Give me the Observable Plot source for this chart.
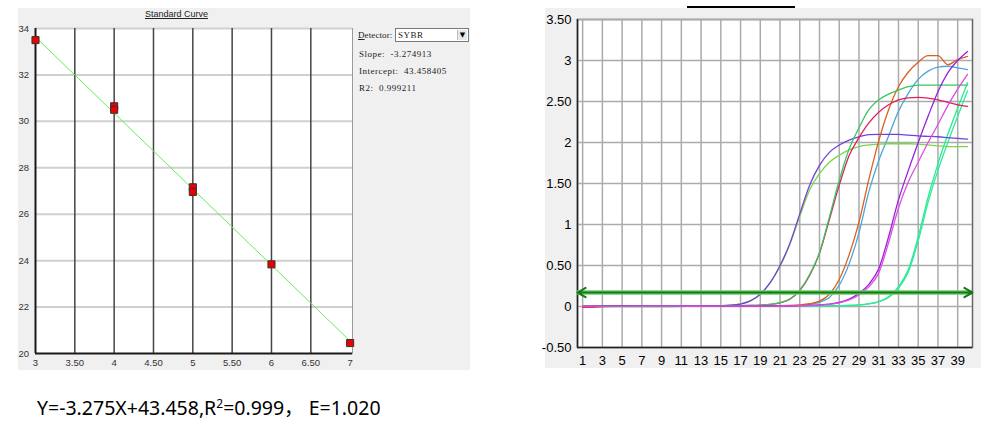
<!DOCTYPE html>
<html>
<head>
<meta charset="utf-8">
<script src="https://cdn.jsdelivr.net/npm/d3@7"></script>
<script src="https://cdn.jsdelivr.net/npm/@observablehq/plot@0.6"></script>
<style>
  html, body { margin: 0; padding: 0; background: #ffffff; }
  #root { position: relative; width: 985px; height: 426px; overflow: hidden; background: #ffffff; }
  .abs { position: absolute; }
  .panel { position: absolute; background: #f0f0f0; }
  .side { position: absolute; font-family: 'Liberation Serif', 'DejaVu Serif', serif; font-size: 9px; color: #222; letter-spacing: 0.5px; white-space: pre; line-height: 10px; }
</style>
</head>
<body>
<div id="root">
  <div class="panel" style="left:18px; top:8px; width:452px; height:362px;"></div>
  <div class="panel" style="left:545px; top:8px; width:436px; height:360px;"></div>
  <div class="abs" style="left:687px; top:6px; width:108px; height:0; border-top:2px solid #000;"></div>
  <div class="abs" style="left:18px; top:9px; width:317px; text-align:center; font:9px 'Liberation Sans', Arial, sans-serif; color:#222; text-decoration:underline;">Standard Curve</div>
  <div id="left" class="abs" style="left:0; top:0;"></div>
  <div id="right" class="abs" style="left:540px; top:0;"></div>
  <div class="side" style="left:358px; top:30px; letter-spacing:0.1px;"><u>D</u>etector:</div>
  <div class="abs" style="left:395px; top:28px; width:72px; height:12px; background:#fff; border:1px solid #7a7a7a;">
    <div class="side" style="left:2px; top:1px;">SYBR</div>
    <div class="abs" style="right:1px; top:1px; width:9px; height:10px; background:#e8e8e8; border-left:1px solid #c0c0c0; font:7px 'DejaVu Sans', sans-serif; color:#000; text-align:center; line-height:10px;">▼</div>
  </div>
  <div class="side" style="left:359px; top:49px;">Slope:  -3.274913</div>
  <div class="side" style="left:359px; top:66px;">Intercept:  43.458405</div>
  <div class="side" style="left:359px; top:83px;">R2:  0.999211</div>
  <div class="abs" style="left:37px; top:398px; font-family:'Noto Sans', 'Noto Sans CJK SC', sans-serif; font-size:19.5px; line-height:20px; color:#000; white-space:pre;">Y=-3.275X+43.458,R<sup style="font-size:12px; line-height:0;">2</sup>=0.999， E=1.020</div>
</div>
<script>
// ---------- Standard curve data ----------
const stdLogQty = [3, 4, 4, 5, 5, 6, 7];
const stdCt = [33.50, 30.65, 30.50, 27.16, 26.96, 23.84, 20.45];
const fitSlope = -3.274913;
const fitIntercept = 43.458405;
const fitRange = [3, 7];
const stdXTicks = [3, 3.5, 4, 4.5, 5, 5.5, 6, 6.5, 7];
const stdYTicks = [20, 22, 24, 26, 28, 30, 32, 34];

// ---------- Amplification plot data ----------
const cycles = [1,2,3,4,5,6,7,8,9,10,11,12,13,14,15,16,17,18,19,20,21,22,23,24,25,26,27,28,29,30,31,32,33,34,35,36,37,38,39,40];
const ampA1 = [0.000,0.002,0.004,0.005,0.005,0.005,0.006,0.006,0.006,0.006,0.007,0.007,0.008,0.009,0.011,0.016,0.030,0.068,0.150,0.290,0.500,0.770,1.130,1.480,1.720,1.880,1.970,2.030,2.070,2.095,2.100,2.100,2.100,2.090,2.080,2.075,2.070,2.060,2.050,2.040];
const ampA2 = [0.002,0.003,0.004,0.005,0.005,0.005,0.005,0.006,0.006,0.006,0.007,0.007,0.008,0.009,0.011,0.017,0.032,0.070,0.150,0.290,0.490,0.760,1.100,1.420,1.620,1.760,1.845,1.910,1.950,1.970,1.980,1.985,1.985,1.985,1.980,1.970,1.960,1.950,1.950,1.950];
const ampB1 = [-0.010,-0.010,-0.002,0.002,0.003,0.004,0.004,0.005,0.005,0.006,0.006,0.006,0.007,0.007,0.008,0.009,0.010,0.012,0.016,0.025,0.045,0.090,0.195,0.380,0.650,1.060,1.480,1.840,2.060,2.240,2.370,2.460,2.520,2.545,2.550,2.540,2.520,2.490,2.460,2.440];
const ampB2 = [0.003,0.004,0.004,0.005,0.005,0.005,0.005,0.006,0.006,0.006,0.006,0.007,0.007,0.008,0.008,0.009,0.010,0.012,0.016,0.025,0.046,0.092,0.200,0.390,0.660,1.090,1.540,1.920,2.180,2.400,2.520,2.590,2.640,2.680,2.700,2.700,2.700,2.700,2.700,2.700];
const ampC1 = [0.000,0.001,0.002,0.003,0.003,0.003,0.003,0.003,0.004,0.004,0.004,0.004,0.004,0.005,0.005,0.005,0.005,0.006,0.006,0.007,0.009,0.012,0.020,0.035,0.065,0.150,0.330,0.630,1.030,1.550,2.020,2.400,2.680,2.860,2.980,3.060,3.060,2.950,3.010,3.050];
const ampC2 = [0.001,0.002,0.002,0.003,0.003,0.003,0.003,0.003,0.003,0.004,0.004,0.004,0.004,0.004,0.005,0.005,0.005,0.005,0.006,0.006,0.007,0.009,0.014,0.025,0.050,0.110,0.260,0.520,0.900,1.400,1.780,2.080,2.380,2.600,2.770,2.870,2.920,2.930,2.910,2.890];
const ampD1 = [0.002,0.003,0.003,0.004,0.004,0.004,0.004,0.004,0.004,0.004,0.004,0.004,0.004,0.004,0.005,0.005,0.005,0.005,0.006,0.006,0.007,0.008,0.010,0.014,0.020,0.030,0.050,0.090,0.160,0.270,0.460,0.850,1.300,1.660,2.000,2.320,2.620,2.850,3.000,3.110];
const ampD2 = [0.000,0.000,0.001,0.002,0.002,0.003,0.003,0.003,0.003,0.003,0.003,0.003,0.003,0.004,0.004,0.004,0.004,0.005,0.005,0.005,0.006,0.007,0.009,0.012,0.018,0.027,0.045,0.080,0.140,0.240,0.410,0.780,1.200,1.520,1.760,2.000,2.220,2.450,2.650,2.830];
const ampE1 = [0.000,0.000,0.000,0.000,0.000,0.000,0.000,0.000,0.000,0.000,0.001,0.001,0.001,0.001,0.001,0.002,0.002,0.002,0.002,0.003,0.003,0.004,0.004,0.005,0.006,0.008,0.010,0.013,0.020,0.035,0.060,0.120,0.240,0.450,0.850,1.330,1.740,2.100,2.420,2.730];
const ampE2 = [0.000,0.000,0.000,0.000,0.000,0.000,0.000,0.000,0.000,0.000,0.000,0.001,0.001,0.001,0.001,0.001,0.002,0.002,0.002,0.002,0.003,0.003,0.004,0.005,0.006,0.007,0.009,0.012,0.018,0.032,0.056,0.110,0.220,0.420,0.800,1.270,1.660,2.000,2.320,2.630];
const threshold = 0.17;
const ampXTicks = [1,3,5,7,9,11,13,15,17,19,21,23,25,27,29,31,33,35,37,39];
const ampYTicks = [-0.5, 0, 0.5, 1, 1.5, 2, 2.5, 3, 3.5];

// styles (kept separate from data)
const seriesList = [
  {name: "E1", values: ampE1, color: "#22ee88"},
  {name: "E2", values: ampE2, color: "#33e8a0"},
  {name: "C2", values: ampC2, color: "#4aa6dc"},
  {name: "A2", values: ampA2, color: "#78d848"},
  {name: "A1", values: ampA1, color: "#7440dc"},
  {name: "C1", values: ampC1, color: "#dd5f1c"},
  {name: "B1", values: ampB1, color: "#dc2258"},
  {name: "B2", values: ampB2, color: "#35c860"},
  {name: "D1", values: ampD1, color: "#9a1fe0"},
  {name: "D2", values: ampD2, color: "#e04ae0"}
];

const fmt = d => Number.isInteger(d) ? String(d) : d.toFixed(2);

// ---------- Left: standard curve ----------
const points = stdLogQty.map((x, i) => ({x, y: stdCt[i]}));
const fitLine = fitRange.map(x => ({x, y: fitSlope * x + fitIntercept}));

const left = Plot.plot({
  width: 470, height: 370,
  marginLeft: 35, marginRight: 118, marginTop: 28, marginBottom: 17,
  style: {background: "none", fontFamily: "'Liberation Sans', Arial, sans-serif", fontSize: "9.5px", color: "#333", overflow: "visible"},
  x: {domain: [3, 7.03], ticks: stdXTicks, tickFormat: fmt, tickSize: 0, tickPadding: 6, label: null},
  y: {domain: [20, 34], ticks: stdYTicks, tickFormat: fmt, tickSize: 0, tickPadding: 6.5, label: null},
  marks: [
    Plot.frame({fill: "white", stroke: "#9a9a9a"}),
    Plot.ruleY(stdYTicks.slice(1), {stroke: "#d0d0d0", strokeWidth: 2}),
    Plot.ruleX(stdXTicks.slice(1, -1), {stroke: "#454545", strokeWidth: 1.5}),
    Plot.ruleX([3], {stroke: "#1a1a1a", strokeWidth: 2}),
    Plot.ruleY([20], {stroke: "#1a1a1a", strokeWidth: 2}),
    Plot.line(fitLine, {x: "x", y: "y", stroke: "#66ee55", strokeWidth: 1}),
    Plot.dot(points, {x: "x", y: "y", symbol: "square", r: 4, fill: "#ee0000", stroke: "#333", strokeWidth: 1})
  ]
});
document.getElementById("left").appendChild(left);

// ---------- Right: amplification plot ----------
const xDom = [0.48, 40.5];
const rows = [];
for (const s of seriesList) {
  cycles.forEach((c, i) => rows.push({cycle: c, value: s.values[i], series: s.name}));
}
const arrows = [{x1: 20, x2: xDom[0], y: threshold}, {x1: 20, x2: xDom[1], y: threshold}];

const right = Plot.plot({
  width: 445, height: 370,
  marginLeft: 37, marginRight: 13, marginTop: 19, marginBottom: 23,
  style: {background: "none", fontFamily: "'Liberation Sans', Arial, sans-serif", fontSize: "13px", color: "#000", overflow: "visible"},
  x: {domain: xDom, ticks: ampXTicks, tickFormat: fmt, tickSize: 0, tickPadding: 8, label: null},
  y: {domain: [-0.5, 3.5], ticks: ampYTicks, tickFormat: fmt, tickSize: 0, tickPadding: 6, label: null},
  marks: [
    Plot.frame({fill: "white", stroke: "#666", strokeWidth: 1.5}),
    Plot.ruleX(ampXTicks, {stroke: "#ababab", strokeWidth: 1.5}),
    Plot.ruleY(ampYTicks.slice(1), {stroke: "#ababab", strokeWidth: 1.5}),
    Plot.ruleX([xDom[0]], {stroke: "#222", strokeWidth: 1.5}),
    Plot.ruleY([-0.5], {stroke: "#222", strokeWidth: 1.5}),
    ...seriesList.map(s => Plot.line(rows.filter(r => r.series === s.name), {x: "cycle", y: "value", stroke: s.color, strokeWidth: 1.3, curve: "monotone-x"})),
    Plot.ruleY([threshold], {stroke: "#6ccf6c", strokeWidth: 4.5}),
    Plot.arrow(arrows, {x1: "x1", x2: "x2", y1: "y", y2: "y", stroke: "#157a15", strokeWidth: 2, headLength: 7})
  ]
});
document.getElementById("right").appendChild(right);
</script>
</body>
</html>
